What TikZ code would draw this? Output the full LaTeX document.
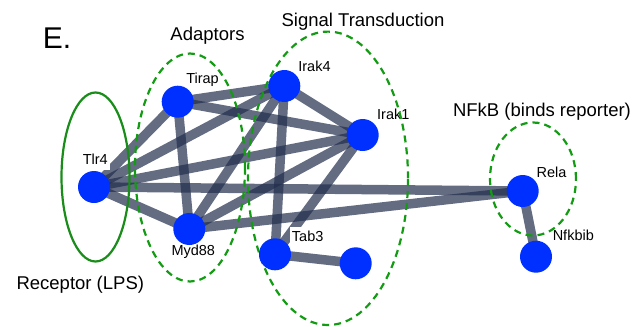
\documentclass[tikz,border=0pt]{standalone}
\usepackage{fontspec}
\setmainfont{Liberation Sans}
\pgfdeclarelayer{edgelayer}
\pgfdeclarelayer{labellayer}
\pgfdeclarelayer{ringlayer}
\pgfsetlayers{edgelayer,labellayer,ringlayer,main}
\definecolor{nodeblue}{RGB}{0,48,255}
\definecolor{edgecol}{RGB}{33,45,76}
\definecolor{ringgreen}{RGB}{20,155,20}
\definecolor{solidgreen}{RGB}{25,140,25}
\begin{document}
\begin{tikzpicture}[x=1pt,y=-1pt,
 dot/.style={circle,fill=nodeblue,minimum size=32pt,inner sep=0pt},
 edge/.style={draw=edgecol,opacity=0.7,line width=9.5pt},
 lbl/.style={fill=white,inner sep=2pt,anchor=base,font=\fontsize{14.5}{16}\selectfont,text height=13pt,text depth=4pt},
 grp/.style={anchor=base,inner sep=0pt,font=\fontsize{18.5}{21}\selectfont},
 ring/.style={draw=ringgreen,line width=2.2pt,dash pattern=on 7pt off 5pt},
 solidring/.style={draw=solidgreen,line width=2.2pt},
]
\useasboundingbox (0,0) rectangle (638,327);

% nodes
\node[dot] (tlr4)   at (94,187) {};
\node[dot] (tirap)  at (177.7,101.7) {};
\node[dot] (irak4)  at (284.3,86) {};
\node[dot] (irak1)  at (362.7,135) {};
\node[dot] (myd88)  at (189.3,229) {};
\node[dot] (tab3)   at (275,254.3) {};
\node[dot] (anon)   at (355.7,263.3) {};
\node[dot] (rela)   at (522.7,191) {};
\node[dot] (nfkbib) at (536,256.7) {};

% edges
\begin{pgfonlayer}{edgelayer}
\draw[edge] (tlr4.center) -- (tirap.center);
\draw[edge] (tlr4.center) -- (irak4.center);
\draw[edge] (tlr4.center) -- (irak1.center);
\draw[edge] (tlr4.center) -- (myd88.center);
\draw[edge] (tlr4.center) -- (rela.center);
\draw[edge] (tirap.center) -- (irak4.center);
\draw[edge] (tirap.center) -- (irak1.center);
\draw[edge] (tirap.center) -- (myd88.center);
\draw[edge] (irak4.center) -- (irak1.center);
\draw[edge] (irak4.center) -- (myd88.center);
\draw[edge] (irak4.center) -- (tab3.center);
\draw[edge] (irak1.center) -- (myd88.center);
\draw[edge] (irak1.center) -- (tab3.center);
\draw[edge] (myd88.center) -- (rela.center);
\draw[edge] (tab3.center) -- (anon.center);
\draw[edge] (rela.center) -- (nfkbib.center);
\end{pgfonlayer}

% node labels
\begin{pgfonlayer}{labellayer}
\node[lbl] (ltlr4)   at (95.3,164) {Tlr4};
\node[lbl] (ltirap)  at (202.5,83.3) {Tirap};
\node[lbl] (lirak4)  at (314.5,71.7) {Irak4};
\node[lbl] (lirak1)  at (393.3,119.3) {Irak1};
\node[lbl] (lmyd88)  at (193.3,255) {Myd88};
\node[lbl] (ltab3)   at (307.7,241.7) {Tab3};
\node[lbl] (lrela)   at (551.5,177.3) {Rela};
\node[lbl] (lnfkbib) at (573.3,240.7) {Nfkbib};
\end{pgfonlayer}

% group rings
\begin{pgfonlayer}{ringlayer}
\draw[solidring] (95.5,177) ellipse [x radius=34pt,y radius=84.5pt];
\draw[ring] (190,167.5) ellipse [x radius=55pt,y radius=114pt];
\draw[ring] (328,178.3) ellipse [x radius=80pt,y radius=146.7pt];
\draw[ring] (533,179) ellipse [x radius=43pt,y radius=56.5pt];
\end{pgfonlayer}

% group labels
\node[grp,font=\fontsize{30}{34}\selectfont] (ltitle) at (57,48) {E.};
\node[grp] (ladapt)  at (207.5,40.7) {Adaptors};
\node[grp] (lsignal) at (363,26) {Signal Transduction};
\node[grp] (lrecep)  at (80.3,289) {Receptor (LPS)};
\node[grp] (lnfkb)   at (542,116) {NFkB (binds reporter)};
\end{tikzpicture}
\end{document}
